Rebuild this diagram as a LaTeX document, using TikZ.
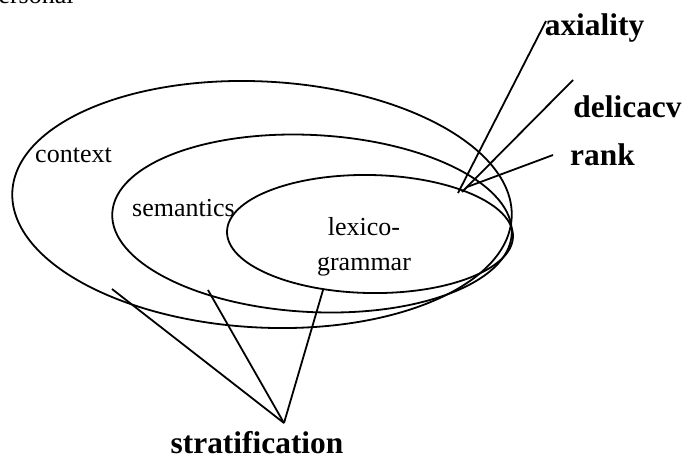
\documentclass[tikz,border=0pt]{standalone}
\usepackage{fontspec}
\setmainfont{Liberation Serif}
\usetikzlibrary{shapes.geometric}
\begin{document}
\begin{tikzpicture}[x=0.5pt,y=-0.5pt,
  stratum/.style={draw, ellipse, line width=0.9pt, inner sep=0pt},
  lbl/.style={font=\fontsize{13}{15.5}\selectfont, inner sep=0pt},
  dimlbl/.style={font=\bfseries\fontsize{15.7}{18}\selectfont, inner sep=0pt},
  link/.style={line width=0.9pt}]
\useasboundingbox (0,0) rectangle (688,457);
% strata
\node[stratum, minimum width=250pt, minimum height=123pt, rotate=-3] (context) at (262,204.5) {};
\node[stratum, minimum width=200pt, minimum height=88.5pt, rotate=-3] (semantics) at (312,223.5) {};
\node[stratum, minimum width=143pt, minimum height=59pt, rotate=-1] (lexgram) at (370,234) {};
% stratum labels
\node[lbl, anchor=base] (tcontext) at (73.5,162) {context};
\node[lbl, anchor=base] (tsemantics) at (183.5,216) {semantics};
\node[lbl, anchor=base, align=center] (tlexgram) at (364,270) {lexico-\\[2pt]grammar};
\node[lbl, anchor=base east] (tpersonal) at (74,3) {personal};
% dimension labels
\node[dimlbl, anchor=base] (axiality) at (594.5,35) {axiality};
\node[dimlbl, anchor=base] (delicacy) at (627.5,117) {delicacv};
\node[dimlbl, anchor=base] (rank) at (602.5,165) {rank};
\node[dimlbl, anchor=base] (strat) at (257,453) {stratification};
% connector ends
\coordinate (hubA) at (458,193);
\coordinate (hubD) at (462,192);
\coordinate (hubR) at (467,187);
\coordinate (endA) at (546,21);
\coordinate (endD) at (573,80);
\coordinate (endR) at (553,155);
\coordinate (apex) at (284,423);
\coordinate (sC) at (112,289);
\coordinate (sS) at (208,290);
\coordinate (sL) at (323,290);
% connectors
\draw[link] (hubA) -- (endA);
\draw[link] (hubD) -- (endD);
\draw[link] (hubR) -- (endR);
\draw[link] (sC) -- (apex);
\draw[link] (sS) -- (apex);
\draw[link] (sL) -- (apex);
\end{tikzpicture}
\end{document}
